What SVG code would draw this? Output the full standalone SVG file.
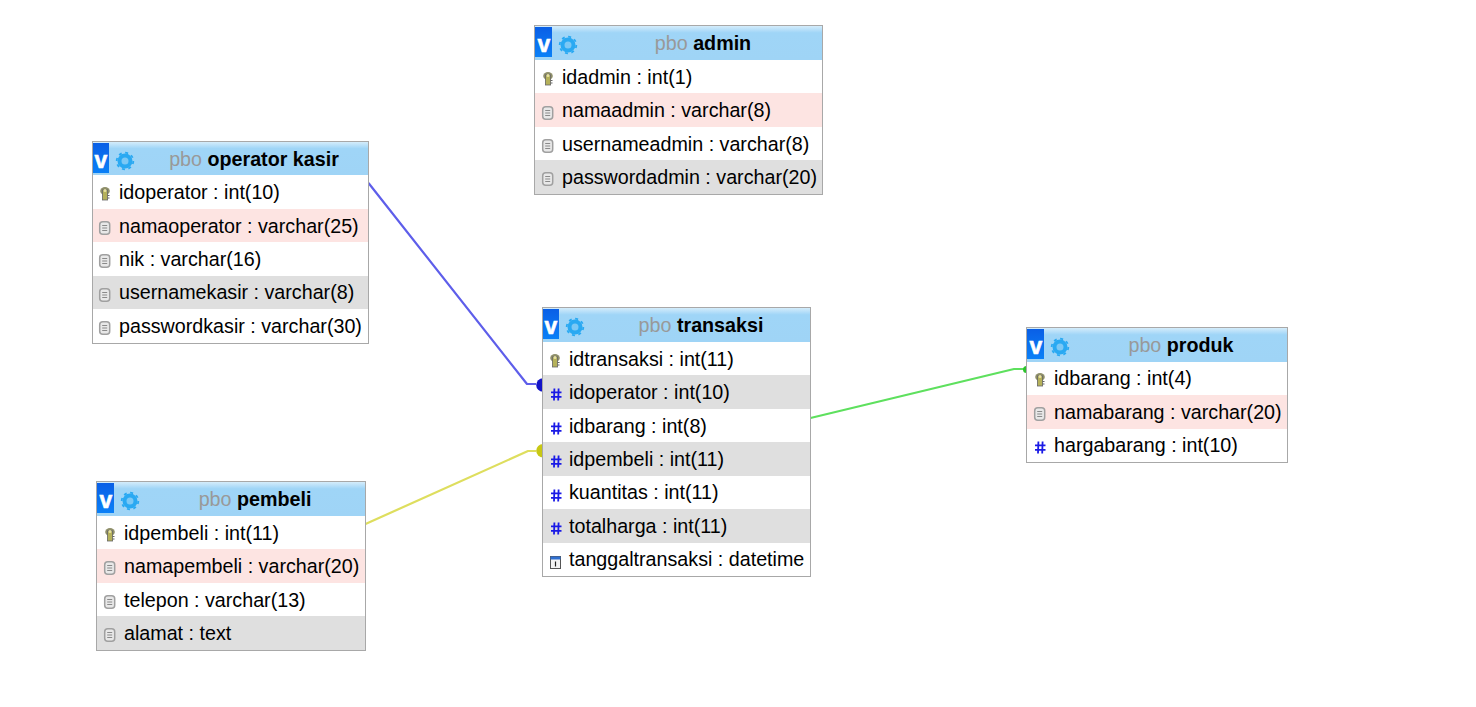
<svg xmlns="http://www.w3.org/2000/svg" width="1476" height="707" viewBox="0 0 1476 707">
<style>
text{font-family:"Liberation Sans",Arial,sans-serif;font-size:19.700px;fill:#000}
.t{text-anchor:middle;font-weight:bold}
.s{fill:#999;font-weight:normal;stroke:none}
.box{fill:#fff;stroke:none}
.frame{fill:none;stroke:#a8a8a8;stroke-width:1}
.pink{fill:#fde4e2}
.grey{fill:#dfdfdf}
.v{fill:#fff;font-size:23px;font-weight:bold;text-anchor:middle;stroke:#fff;stroke-width:.6}
.c{fill:none;stroke-width:2.200;stroke-linejoin:round}
</style>
<defs>
<linearGradient id="hd" x1="0" y1="0" x2="0" y2="1"><stop offset="0" stop-color="#d4ecfb"/><stop offset=".2" stop-color="#9fd5f7"/><stop offset="1" stop-color="#9fd4f6"/></linearGradient>
<linearGradient id="vb" x1="0" y1="0" x2="0" y2="1"><stop offset="0" stop-color="#0a5fe6"/><stop offset="1" stop-color="#0a80f7"/></linearGradient>
<g id="head"><rect x="0" y="0" width="17" height="30" fill="url(#vb)"/><text class="v" x="9" y="25">v</text>
<circle cx="33" cy="18" r="5.500" fill="#7cc8f5" stroke="#2aa9f2" stroke-width="4"/>
<circle cx="33" cy="18" r="8.300" fill="none" stroke="#2aa9f2" stroke-width="1.800" stroke-dasharray="3 3.500"/></g>
<g id="key"><ellipse cx="5" cy="4" rx="4.800" ry="4" fill="#8f8f6a"/><rect x="2.400" y="3" width="5.200" height="10" fill="#b5b15a" stroke="#666" stroke-width=".8"/><circle cx="5" cy="3.600" r="1.500" fill="#e8e2a0"/><path d="M7.500 8.500h2M7.500 11h2" stroke="#666" stroke-width="1.200"/></g>
<g id="doc"><rect x="0.700" y="0.700" width="10" height="12.600" rx="3" fill="#e8e8e8" stroke="#a0a0a0" stroke-width="1.500"/><path d="M3.200 4.500h5M3.200 7h5M3.200 9.500h5" stroke="#8a8a8a"/></g>
<g id="hash" stroke="#1a1ae6" stroke-width="1.800" fill="none"><path d="M3.400 0.500 3 12.500M7.600 0.500 7.200 12.500M0 4.300h10.500M0 8.800h10.500"/></g>
<g id="cal"><rect x="0.500" y="0.500" width="10" height="12" fill="#f4f4f4" stroke="#555"/><rect x="0.500" y="0.500" width="10" height="3" fill="#2f6fd0"/><path d="M5.500 5.500v5" stroke="#222" stroke-width="1.200"/></g>
</defs>

<g id="connectors">
<path class="c" stroke="#5e5eea" d="M368.500 183 527 384H536"/>
<path d="M543 378.200a6.800 6.800 0 0 0 0 13.600z" fill="#1414c8"/>
<path class="c" stroke="#dede5e" d="M365.500 524 528 451H536"/>
<path d="M543 444a6.800 6.800 0 0 0 0 13.600z" fill="#c8c814"/>
<path class="c" stroke="#5ee05e" d="M810.500 418 1014 369H1024"/>
<path d="M1026.500 366a3.500 3.500 0 0 0 0 7z" fill="#2cc42c"/>
</g>

<g id="admin">
<rect class="box" x="534.500" y="25.500" width="288" height="169"/>
<rect x="535" y="26" width="287" height="34" fill="url(#hd)"/>
<use href="#head" x="535" y="27"/>
<text class="t" x="703" y="50"><tspan class="s">pbo</tspan> admin</text>
<rect class="pink" x="535" y="93" width="287" height="34"/>
<rect class="grey" x="535" y="160" width="287" height="34"/>
<use href="#key" x="543" y="72"/><text x="562" y="84">idadmin : int(1)</text>
<use href="#doc" x="542" y="106"/><text x="562" y="117">namaadmin : varchar(8)</text>
<use href="#doc" x="542" y="139"/><text x="562" y="151">usernameadmin : varchar(8)</text>
<use href="#doc" x="542" y="172"/><text x="562" y="184">passwordadmin : varchar(20)</text>
<rect class="frame" x="534.500" y="25.500" width="288" height="169"/>
</g>

<g id="operator-kasir">
<rect class="box" x="92.500" y="141.500" width="276" height="202"/>
<rect x="93" y="142" width="275" height="33" fill="url(#hd)"/>
<use href="#head" x="92" y="143"/>
<text class="t" x="254" y="166"><tspan class="s">pbo</tspan> operator kasir</text>
<rect class="pink" x="93" y="209" width="275" height="33"/>
<rect class="grey" x="93" y="276" width="275" height="33"/>
<use href="#key" x="100" y="187"/><text x="119" y="199">idoperator : int(10)</text>
<use href="#doc" x="99" y="221"/><text x="119" y="233">namaoperator : varchar(25)</text>
<use href="#doc" x="99" y="254"/><text x="119" y="266">nik : varchar(16)</text>
<use href="#doc" x="99" y="288"/><text x="119" y="299">usernamekasir : varchar(8)</text>
<use href="#doc" x="99" y="321"/><text x="119" y="333">passwordkasir : varchar(30)</text>
<rect class="frame" x="92.500" y="141.500" width="276" height="202"/>
</g>

<g id="transaksi">
<rect class="box" x="542.500" y="307.500" width="268" height="269"/>
<rect x="543" y="308" width="267" height="34" fill="url(#hd)"/>
<use href="#head" x="542" y="309"/>
<text class="t" x="701" y="332"><tspan class="s">pbo</tspan> transaksi</text>
<rect class="grey" x="543" y="375" width="267" height="34"/>
<rect class="grey" x="543" y="442" width="267" height="34"/>
<rect class="grey" x="543" y="509" width="267" height="34"/>
<use href="#key" x="550" y="354"/><text x="569" y="366">idtransaksi : int(11)</text>
<use href="#hash" x="551" y="388"/><text x="569" y="399">idoperator : int(10)</text>
<use href="#hash" x="551" y="422"/><text x="569" y="433">idbarang : int(8)</text>
<use href="#hash" x="551" y="455"/><text x="569" y="466">idpembeli : int(11)</text>
<use href="#hash" x="551" y="489"/><text x="569" y="499">kuantitas : int(11)</text>
<use href="#hash" x="551" y="522"/><text x="569" y="533">totalharga : int(11)</text>
<use href="#cal" x="550" y="556"/><text x="569" y="566">tanggaltransaksi : datetime</text>
<rect class="frame" x="542.500" y="307.500" width="268" height="269"/>
</g>

<g id="produk">
<rect class="box" x="1026.500" y="327.500" width="261" height="135"/>
<rect x="1027" y="328" width="260" height="34" fill="url(#hd)"/>
<use href="#head" x="1027" y="329"/>
<text class="t" x="1181" y="352"><tspan class="s">pbo</tspan> produk</text>
<rect class="pink" x="1027" y="395" width="260" height="34"/>
<use href="#key" x="1035" y="373"/><text x="1054" y="385">idbarang : int(4)</text>
<use href="#doc" x="1034" y="407"/><text x="1054" y="419">namabarang : varchar(20)</text>
<use href="#hash" x="1035" y="441"/><text x="1054" y="452">hargabarang : int(10)</text>
<rect class="frame" x="1026.500" y="327.500" width="261" height="135"/>
</g>

<g id="pembeli">
<rect class="box" x="96.500" y="481.500" width="269" height="169"/>
<rect x="97" y="482" width="268" height="34" fill="url(#hd)"/>
<use href="#head" x="97" y="483"/>
<text class="t" x="255" y="506"><tspan class="s">pbo</tspan> pembeli</text>
<rect class="pink" x="97" y="549" width="268" height="34"/>
<rect class="grey" x="97" y="616" width="268" height="34"/>
<use href="#key" x="105" y="528"/><text x="124" y="540">idpembeli : int(11)</text>
<use href="#doc" x="104" y="561"/><text x="124" y="573">namapembeli : varchar(20)</text>
<use href="#doc" x="104" y="595"/><text x="124" y="607">telepon : varchar(13)</text>
<use href="#doc" x="104" y="628"/><text x="124" y="640">alamat : text</text>
<rect class="frame" x="96.500" y="481.500" width="269" height="169"/>
</g>
</svg>
